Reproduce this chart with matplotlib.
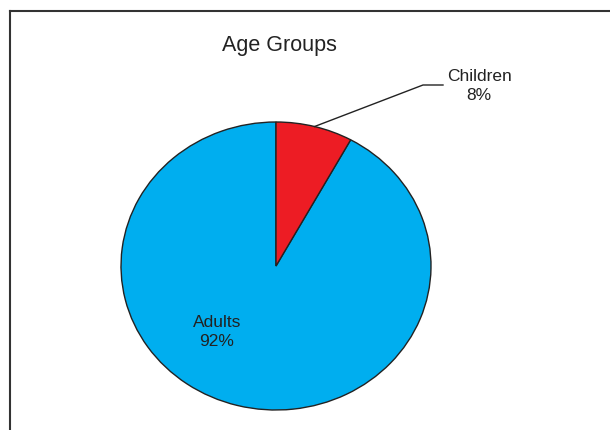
import numpy as np
import matplotlib.pyplot as plt
from matplotlib.lines import Line2D

plt.rcParams.update({"font.family": ["Liberation Sans", "DejaVu Sans"]})

groups = ["Adults", "Children"]
shares = [92, 8]
colors = ["#00AEEF", "#ED1C24"]

W, H = 610, 430
fig = plt.figure(figsize=(W / 100, H / 100), dpi=100)

# pie sits in an axes that squashes the unit circle to the reference ellipse
cx, cy, rx, ry = 276, 266, 155, 144
ax = fig.add_axes([(cx - rx) / W, 1 - (cy + ry) / H, 2 * rx / W, 2 * ry / H])
wedges, _ = ax.pie(shares, colors=colors, startangle=90, counterclock=True,
                   wedgeprops=dict(edgecolor="#222222", linewidth=1.0))
ax.set_aspect("auto")
ax.set_xlim(-1, 1)
ax.set_ylim(-1, 1)
ax.axis("off")

# frame lines (top and left)
fig.add_artist(Line2D([10 / W, 1], [1 - 11 / H, 1 - 11 / H], color="#333333",
                      lw=1.5, transform=fig.transFigure))
fig.add_artist(Line2D([10 / W, 10 / W], [1 - 11 / H, 0], color="#333333",
                      lw=1.5, transform=fig.transFigure))

fig.text(279 / W, 1 - 51 / H, "Age Groups", ha="center", va="baseline",
         fontsize=15.5, color="#222222")

# adults label inside
fig.text(217 / W, 1 - 332 / H, f"{groups[0]}\n{shares[0]}%", ha="center",
         va="center", fontsize=12.5, multialignment="center",
         linespacing=1.3, color="#222222")

# children label with leader line
w = wedges[1]
mid = np.deg2rad((w.theta1 + w.theta2) / 2)
px, py = ax.transData.transform((np.cos(mid), np.sin(mid)))
sx, sy = fig.transFigure.inverted().transform((px, py))
fig.add_artist(Line2D([sx, 423 / W, 443 / W], [sy, 1 - 85 / H, 1 - 85 / H],
                      color="#222222", lw=1.0, transform=fig.transFigure))
fig.text(479 / W, 1 - 86 / H, f"{groups[1]}\n{shares[1]}%", ha="center",
         va="center", fontsize=12.5, multialignment="center",
         linespacing=1.3, color="#222222")

fig.savefig("out.png", dpi=100)
